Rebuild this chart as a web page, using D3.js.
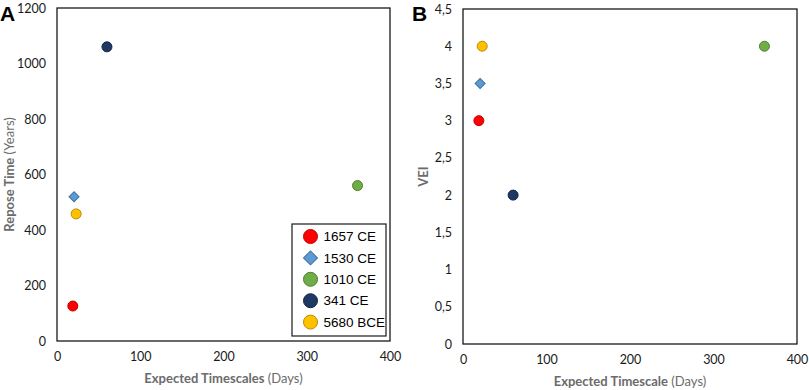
<!DOCTYPE html>
<html lang="en">
<head>
    <meta charset="UTF-8">
    <title>Repose time and VEI vs expected timescale</title>
    <script src="https://cdn.jsdelivr.net/npm/d3@7/dist/d3.min.js"></script>
    <style>
        body { margin: 0; background: #fff; }
        .tick text { font-family: Lato, "Open Sans", sans-serif; font-size: 12.5px; fill: #1a1a1a; }
    </style>
</head>
<body>
    <svg width="809" height="390" id="mainsvg"></svg>
    <script>
        // eruptions (legend order)
        const events = ['1657 CE', '1530 CE', '1010 CE', '341 CE', '5680 BCE']
        const fills = ['#FF0000', '#5B9BD5', '#70AD47', '#1F3864', '#FFC000']
        const strokes = ['#C00000', '#41719C', '#507E32', '#132544', '#BC8C00']
        const shapes = ['circle', 'diamond', 'circle', 'circle', 'circle']

        // panel A
        const timescaleA = [19, 20.5, 361, 60, 23]
        const reposeYears = [126, 520, 560, 1060, 458]
        // panel B
        const timescaleB = [19, 20.5, 361, 60, 23]
        const vei = [3, 3.5, 4, 2, 4]

        const xTicks = [0, 100, 200, 300, 400]
        const yTicksA = [0, 200, 400, 600, 800, 1000, 1200]
        const yTicksB = [0, 0.5, 1, 1.5, 2, 2.5, 3, 3.5, 4, 4.5]

        const svg = d3.select('#mainsvg')
        const commaFmt = d3.formatLocale({decimal: ',', thousands: '.', grouping: [3], currency: ['', '']}).format('~g')

        function marker(sel, i, r) {
            if (shapes[i] === 'diamond') {
                const side = r * Math.SQRT2
                sel.append('path')
                    .attr('d', d3.symbol(d3.symbolSquare, side * side)())
                    .attr('transform', 'rotate(45)')
                    .attr('fill', fills[i]).attr('stroke', strokes[i]).attr('stroke-width', 1)
            } else {
                sel.append('circle').attr('r', r)
                    .attr('fill', fills[i]).attr('stroke', strokes[i]).attr('stroke-width', 1)
            }
        }

        function panel(opt) {
            const x = d3.scaleLinear().domain([0, 400]).range([opt.left, opt.right])
            const y = d3.scaleLinear().domain(opt.yDomain).range([opt.bottom, opt.top])
            const g = svg.append('g')

            g.append('g')
                .attr('transform', `translate(0,${opt.bottom})`)
                .call(d3.axisBottom(x).tickValues(xTicks).tickSize(0).tickPadding(11))
                .call(a => a.select('.domain').remove())

            g.append('g')
                .attr('transform', `translate(${opt.left},0)`)
                .call(d3.axisLeft(y).tickValues(opt.yTicks).tickSize(0).tickPadding(11).tickFormat(opt.fmt))
                .call(a => a.select('.domain').remove())

            g.append('rect')
                .attr('x', opt.left).attr('y', opt.top)
                .attr('width', opt.right - opt.left).attr('height', opt.bottom - opt.top)
                .attr('fill', 'none').attr('stroke', '#1a1a1a').attr('stroke-width', 1.3)

            opt.xs.forEach((d, i) => {
                const m = g.append('g').attr('transform', `translate(${x(d)},${y(opt.ys[i])})`)
                marker(m, i, 5)
            })

            // x title
            const xt = g.append('text')
                .attr('x', (opt.left + opt.right) / 2).attr('y', opt.bottom + 42)
                .attr('text-anchor', 'middle')
                .attr('font-family', 'Lato, sans-serif').attr('font-size', 13).attr('fill', '#6b6b6b')
            xt.append('tspan').attr('font-weight', 'bold').text(opt.xTitle[0])
            xt.append('tspan').text(' ' + opt.xTitle[1])

            // y title
            const cy = (opt.top + opt.bottom) / 2
            const yt = g.append('text')
                .attr('transform', `translate(${opt.yTitleX},${cy}) rotate(-90)`)
                .attr('text-anchor', 'middle')
                .attr('font-family', 'Lato, sans-serif').attr('font-size', 13).attr('fill', '#6b6b6b')
            yt.append('tspan').attr('font-weight', 'bold').text(opt.yTitle[0])
            if (opt.yTitle[1]) yt.append('tspan').text(' ' + opt.yTitle[1])

            // panel letter
            g.append('text').text(opt.letter)
                .attr('x', opt.letterX).attr('y', 21)
                .attr('font-family', '"Liberation Sans", Arial, sans-serif')
                .attr('font-weight', 'bold').attr('font-size', 21).attr('fill', '#000')
        }

        panel({
            left: 57, right: 390, top: 8, bottom: 341,
            yDomain: [0, 1200], yTicks: yTicksA, fmt: d3.format('d'),
            xs: timescaleA, ys: reposeYears,
            xTitle: ['Expected Timescales', '(Days)'], yTitle: ['Repose Time', '(Years)'],
            yTitleX: 14, letter: 'A', letterX: 0
        })

        panel({
            left: 463, right: 797, top: 9, bottom: 344,
            yDomain: [0, 4.5], yTicks: yTicksB, fmt: commaFmt,
            xs: timescaleB, ys: vei,
            xTitle: ['Expected Timescale', '(Days)'], yTitle: ['VEI', ''],
            yTitleX: 428, letter: 'B', letterX: 412
        })

        // legend inside panel A
        const lg = svg.append('g').attr('transform', 'translate(292,224)')
        lg.append('rect').attr('width', 94).attr('height', 112)
            .attr('fill', '#fff').attr('stroke', '#1a1a1a').attr('stroke-width', 1.2)
        events.forEach((e, i) => {
            const row = lg.append('g').attr('transform', `translate(18.5,${12.5 + i * 21.4})`)
            marker(row, i, 7)
            row.append('text').text(e)
                .attr('x', 13).attr('dy', '0.35em')
                .attr('font-family', '"Liberation Sans", Arial, sans-serif')
                .attr('font-size', 13.5).attr('fill', '#000')
        })
    </script>
</body>
</html>
